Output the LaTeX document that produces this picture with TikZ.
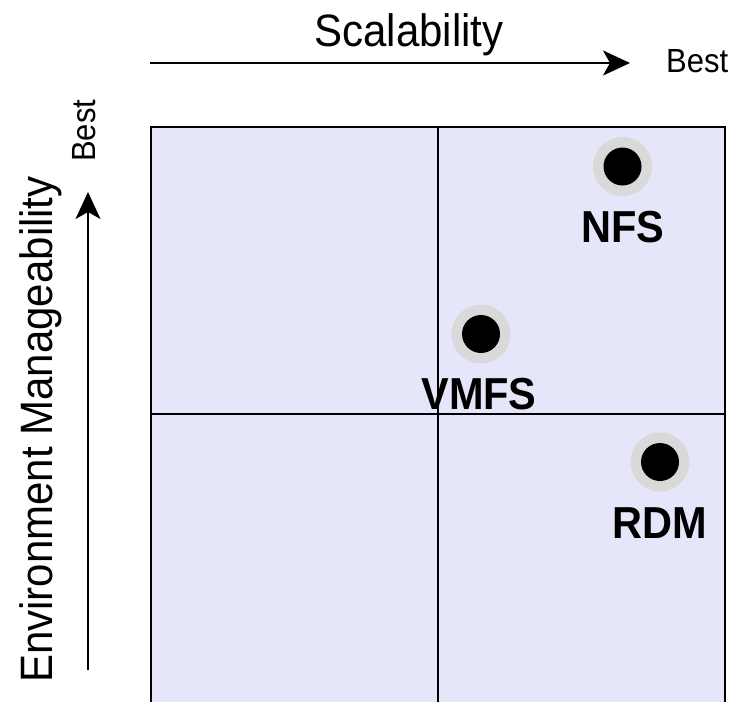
\documentclass[tikz,border=0pt]{standalone}
\usepackage{fontspec}
\setmainfont{Liberation Sans}
\usetikzlibrary{arrows.meta}
\definecolor{quadfill}{HTML}{E6E6FA}
\definecolor{halo}{HTML}{D9D9D9}
\newcommand{\tallt}[1]{\scalebox{1}[1.08]{#1}}
\begin{document}
\begin{tikzpicture}[x=1pt,y=-1pt,
  axislabel/.style={inner sep=0pt,font=\fontsize{42}{50}\selectfont},
  bestlabel/.style={inner sep=0pt,font=\fontsize{31}{37}\selectfont},
  ptlabel/.style={inner sep=0pt,anchor=base,font=\bfseries\fontsize{41.5}{48}\selectfont},
  axisarrow/.style={line width=2pt,-{Stealth[length=27pt,width=25pt,inset=7pt]}},
  quadline/.style={line width=2.8pt},
  haloc/.style={circle,fill=halo,minimum size=59pt,inner sep=0pt},
  dotc/.style={circle,fill=black,minimum size=38pt,inner sep=0pt}]
\useasboundingbox (0,0) rectangle (733,701);
\clip (0,0) rectangle (733,701);
% quadrant
\fill[quadfill] (151,127) rectangle (725,720);
\draw[quadline] (151,720) -- (151,127) -- (725,127) -- (725,720);
\draw[quadline] (438,127) -- (438,720);
\draw[quadline] (151,414) -- (725,414);
% axes
\coordinate (hs) at (150,63);
\coordinate (he) at (630,63);
\draw[axisarrow] (hs) -- (he);
\coordinate (vs) at (88,670);
\coordinate (ve) at (88,192);
\draw[axisarrow] (vs) -- (ve);
\node[axislabel,anchor=base] (scal) at (409,47) {\tallt{Scalability}};
\node[bestlabel,anchor=base west] (bestx) at (666,72) {\tallt{Best}};
\node[axislabel,anchor=base west,rotate=90] (env) at (52,683) {\tallt{Environment Manageability}};
\node[bestlabel,anchor=base west,rotate=90] (besty) at (95,162) {\tallt{Best}};
% points
\node[haloc] (nfsh) at (622.5,166.5) {};
\node[dotc] (nfsd) at (nfsh) {};
\node[ptlabel] (nfs) at (623,242) {\tallt{NFS}};
\node[haloc] (vmfsh) at (481,334) {};
\node[dotc] (vmfsd) at (vmfsh) {};
\node[ptlabel] (vmfs) at (479,409) {\tallt{VMFS}};
\node[haloc] (rdmh) at (660,462) {};
\node[dotc] (rdmd) at (rdmh) {};
\node[ptlabel] (rdm) at (660,538) {\tallt{RDM}};
\end{tikzpicture}
\end{document}
